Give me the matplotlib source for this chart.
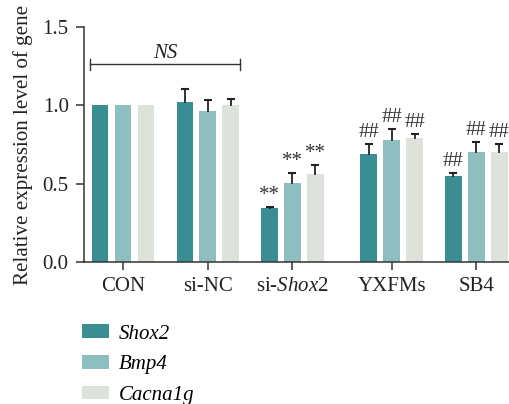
import numpy as np
import matplotlib.pyplot as plt

plt.rcParams['font.family'] = ['Liberation Serif', 'DejaVu Serif']
plt.rcParams['mathtext.fontset'] = 'custom'
plt.rcParams['mathtext.rm'] = 'Liberation Serif'
plt.rcParams['mathtext.it'] = 'Liberation Serif:italic'

# dados
grupos = ['CON', 'si-NC', 'si-$\\it{Shox2}$', 'YXFMs', 'SB4']
genes = ['Shox2', 'Bmp4', 'Cacna1g']
shox2 = [1.0, 1.02, 0.347, 0.69, 0.549]
bmp4 = [1.0, 0.964, 0.504, 0.779, 0.702]
cacna1g = [1.0, 1.0, 0.562, 0.792, 0.702]
erro_shox2 = [0.0, 0.08, 0.006, 0.061, 0.021]
erro_bmp4 = [0.0, 0.066, 0.066, 0.072, 0.062]
erro_cacna1g = [0.0, 0.04, 0.059, 0.027, 0.049]
marcas_shox2 = ['', '', '**', '##', '##']
marcas_bmp4 = ['', '', '**', '##', '##']
marcas_cacna1g = ['', '', '**', '##', '##']

cores = ['#3a8d93', '#8fbec0', '#dde3da']

fig = plt.figure(figsize=(5.1, 4.04), dpi=100)
ax = fig.add_axes([0.1647, 0.3515, 0.835, 0.5824])

pos = np.array([0, 1, 2, 3.17, 4.17])
desloc = 0.27
largura = 0.195

series = [(shox2, erro_shox2, marcas_shox2),
          (bmp4, erro_bmp4, marcas_bmp4),
          (cacna1g, erro_cacna1g, marcas_cacna1g)]

barras = []
for i, (vals, errs, marcas) in enumerate(series):
    x = pos + (i - 1) * desloc
    b = ax.bar(x, vals, largura, color=cores[i], label=genes[i], zorder=2)
    barras.append(b)
    topo = np.array(vals) + np.array(errs)
    # so a metade de cima da barra de erro
    for xi, v, t in zip(x, vals, topo):
        if t > v:
            ax.plot([xi, xi], [v, t], color='#222222', lw=1.3, zorder=3)
            ax.plot([xi], [t], marker='_', markersize=6, mew=1.5,
                    color='#222222', zorder=3)
    for xi, t, m in zip(x, topo, marcas):
        if m:
            ax.text(xi, t + 0.012, m, ha='center', va='bottom',
                    fontsize=15, color='#333333')

# linha NS
ax.plot([-0.39, 1.38], [1.26, 1.26], color='#333333', lw=1.0)
ax.plot([-0.39, -0.39], [1.225, 1.295], color='#333333', lw=1.0)
ax.plot([1.38, 1.38], [1.225, 1.295], color='#333333', lw=1.0)
ax.text(0.495, 1.33, 'NS', ha='center', va='center', fontsize=15,
        style='italic', color='#222222')

ax.set_xlim(-0.46, 4.565)
ax.set_ylim(0, 1.5)
ax.set_yticks([0.0, 0.5, 1.0, 1.5])
ax.set_yticklabels(['0.0', '0.5', '1.0', '1.5'])
ax.set_xticks(pos)
ax.set_xticklabels(grupos)
ax.tick_params(axis='both', labelsize=15, length=6, width=1.1,
               color='#333333', labelcolor='#222222')
ax.tick_params(axis='y', pad=5)
ax.tick_params(axis='x', pad=5)
ax.spines['top'].set_visible(False)
ax.spines['right'].set_visible(False)
for s in ['left', 'bottom']:
    ax.spines[s].set_color('#333333')
    ax.spines[s].set_linewidth(1.1)
ax.set_ylabel('Relative expression level of gene', fontsize=15.1, color='#222222')
ax.yaxis.set_label_coords(-0.12, 0.497)

leg = fig.legend(handles=barras, labels=genes, loc='upper left',
                 bbox_to_anchor=(0.125, 0.2435), frameon=False,
                 prop={'style': 'italic', 'size': 15}, handlelength=1.25,
                 handleheight=0.63, labelspacing=0.55, handletextpad=0.5)

plt.savefig('out.png', dpi=100)
